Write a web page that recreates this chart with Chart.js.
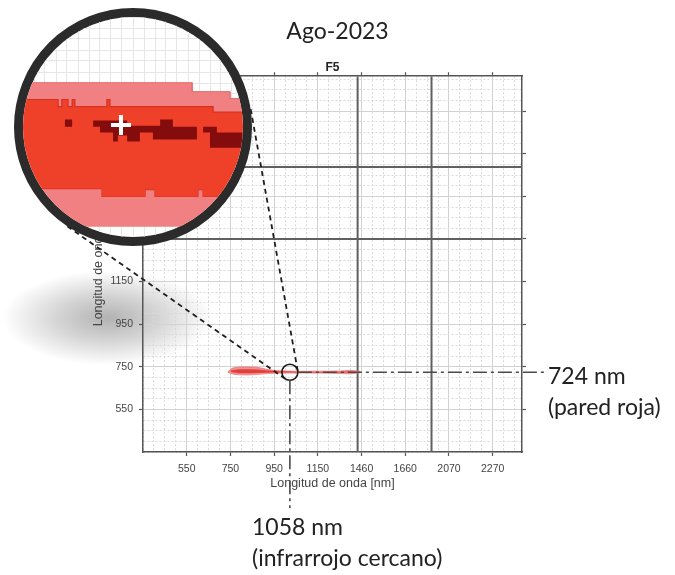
<!DOCTYPE html>
<html>
<head>
<meta charset="utf-8">
<script src="https://cdn.jsdelivr.net/npm/chart.js"></script>
<style>
  html, body { margin: 0; padding: 0; background: #fff; }
  #wrap { position: relative; width: 675px; height: 575px; overflow: hidden; }
  #main { position: absolute; left: 0; top: 0; }
  #lens { position: absolute; left: 14px; top: 8px; width: 220px; height: 220px;
          border: 9px solid #2b2b2b; border-radius: 50%; overflow: hidden; background: #fff; }
  #lens canvas { display: block; }
  .note { position: absolute; font-family: Lato, "Open Sans", sans-serif; font-size: 23px;
          line-height: 31px; color: #222; white-space: nowrap; }
</style>
</head>
<body>
<div id="wrap">
  <canvas id="main" width="675" height="575"></canvas>
  <div id="lens"><canvas id="zoom" width="220" height="220"></canvas></div>
  <div class="note" style="left:548px; top:360px">724 nm<br>(pared roja)</div>
  <div class="note" style="left:252px; top:511px">1058 nm<br>(infrarrojo cercano)</div>
</div>
<script>
// tick labels of both axes (nm), evenly spaced on the plot
const tickNm = [550, 750, 950, 1150, 1460, 1660, 2070, 2270];

// thick separator lines (nm)
const breakXNm = [1432, 1906];
const breakYNm = [1460, 1943];

// red blob in the F5 map: outer (pink) and inner (red) contours, [x nm, y nm]
const blobTop = [[738,726],[761,744],[815,749],[875,747],[921,737],[976,731],[1067,729],[1305,730],[1376,733],[1448,729]];
const blobBottom = [[738,724],[770,714],[829,712],[893,716],[953,720],[1067,721],[1305,719],[1376,717],[1448,722]];
const coreTop = [[752,733],[800,738],[870,737],[950,730],[1067,726],[1305,726],[1376,728],[1440,726]];
const coreBottom = [[752,726],[800,720],[870,721],[950,723],[1067,723.5],[1305,723],[1376,722],[1440,724]];

// marked point
const markNm = [1022, 724];

// magnified view around the point
const lensX = [1000, 1064];
const lensY = [690, 754];
const lensCross = [1028.5, 722.6];
const pinkTop = [[995,734.9],[1049.2,734.9],[1049.2,732.3],[1060.2,732.3],[1060.2,730.3],[1070,730.3]];
const pinkBottom = [[995,693],[1070,693]];
const redTop = [[995,730],[1010.2,730],[1010.2,727.9],[1011.3,727.9],[1011.3,730],[1013.1,730],[1013.1,727.9],
  [1014.3,727.9],[1014.3,730],[1015.1,730],[1015.1,727.9],[1024.4,727.9],[1024.4,730],[1025.3,730],
  [1025.3,727.9],[1055.3,727.9],[1055.3,726.3],[1070,726.3]];
const redBottom = [[995,704.1],[1023,704.1],[1023,701.8],[1035.5,701.8],[1035.5,703.8],[1038.4,703.8],
  [1038.4,701.8],[1050.9,701.8],[1050.9,703.8],[1052.4,703.8],[1052.4,701.8],[1070,701.8]];
const darkTop = [[995,723],[1012.2,723],[1012.2,724.2],[1014.3,724.2],[1014.3,723],[1020.4,723],[1020.4,723.9],
  [1030.3,723.9],[1030.3,722.4],[1039.9,722.4],[1039.9,724.2],[1043.6,724.2],[1043.6,722.1],[1050.6,722.1],
  [1050.6,721],[1052.4,721],[1052.4,722.1],[1056.4,722.1],[1056.4,720.4],[1070,720.4]];
const darkBottom = [[995,723],[1012.2,723],[1012.2,722.1],[1014.3,722.1],[1014.3,723],[1020.4,723],[1020.4,722.1],
  [1022.4,722.1],[1022.4,720.4],[1026.2,720.4],[1026.2,717.8],[1027.6,717.8],[1027.6,719.5],[1030.3,719.5],
  [1030.3,717.8],[1034,717.8],[1034,720.4],[1037.8,720.4],[1037.8,718.4],[1050.6,718.4],[1050.6,721],
  [1052.4,721],[1052.4,720.4],[1054.4,720.4],[1054.4,716],[1070,716]];

// nm -> position on the evenly spaced tick axis
function toIdx(nm) {
  const n = tickNm.length;
  if (nm <= tickNm[0]) return (nm - tickNm[0]) / (tickNm[1] - tickNm[0]);
  for (let i = 0; i < n - 1; i++) {
    if (nm <= tickNm[i + 1]) return i + (nm - tickNm[i]) / (tickNm[i + 1] - tickNm[i]);
  }
  return n - 1 + (nm - tickNm[n - 1]) / (tickNm[n - 1] - tickNm[n - 2]);
}
const pts = arr => arr.map(p => ({ x: toIdx(p[0]), y: toIdx(p[1]) }));
const raw = arr => arr.map(p => ({ x: p[0], y: p[1] }));

const xMin = -1, xMax = 7.67, yMin = -1, yMax = 7.82;
const isMajor = v => Number.isInteger(v) && v >= 0 && v < tickNm.length;

function quarterTicks(scale) {
  const t = [];
  for (let v = Math.ceil(scale.min * 4) / 4; v <= scale.max + 1e-9; v += 0.25) {
    t.push({ value: Math.round(v * 100) / 100 });
  }
  scale.ticks = t;
}

const gridOpts = {
  color: c => (c.tick && isMajor(c.tick.value)) ? '#d2d2d2' : '#d9d9d9',
  lineWidth: 1,
  tickLength: 4,
  tickWidth: 1.2,
  tickColor: c => (c.tick && isMajor(c.tick.value)) ? '#555' : 'rgba(0,0,0,0)'
};
const borderOpts = {
  color: '#555', width: 1.5,
  dash: c => (c.tick && !isMajor(c.tick.value)) ? [2, 2] : []
};
const tickFont = { family: 'Liberation Sans', size: 10.5 };
const titleFont = { family: 'Liberation Sans', size: 12.5 };

const LENS = { cx: 133, cy: 127, r: 119 };

const shadowPlugin = {
  id: 'shadow',
  beforeDraw(chart) {
    const ctx = chart.ctx;
    ctx.save();
    ctx.translate(108, 318);
    ctx.scale(1, 0.45);
    const g = ctx.createRadialGradient(0, 0, 0, 0, 0, 105);
    g.addColorStop(0, 'rgba(0,0,0,0.30)');
    g.addColorStop(0.5, 'rgba(0,0,0,0.16)');
    g.addColorStop(1, 'rgba(0,0,0,0)');
    ctx.fillStyle = g;
    ctx.fillRect(-110, -110, 220, 220);
    ctx.restore();
  }
};

const guidePlugin = {
  id: 'guides',
  afterDatasetsDraw(chart) {
    const { ctx, chartArea, scales } = chart;
    const mx = scales.x.getPixelForValue(toIdx(markNm[0]));
    const my = scales.y.getPixelForValue(toIdx(markNm[1]));
    const r = 8;
    ctx.save();
    // dash-dot guides
    ctx.strokeStyle = '#4a4a4a';
    ctx.lineWidth = 1.6;
    ctx.setLineDash([14, 4, 3, 4]);
    ctx.beginPath();
    ctx.moveTo(mx + r, my);
    ctx.lineTo(chartArea.right + 24, my);
    ctx.moveTo(mx, my + r);
    ctx.lineTo(mx, chartArea.bottom + 56);
    ctx.stroke();
    // tangent lines towards the magnifier
    const dx = LENS.cx - mx, dy = LENS.cy - my;
    const D = Math.hypot(dx, dy);
    const ux = dx / D, uy = dy / D;
    const a = (LENS.r - r) / D, b = Math.sqrt(1 - a * a);
    ctx.strokeStyle = '#1e1e1e';
    ctx.lineWidth = 1.8;
    ctx.setLineDash([5, 4]);
    ctx.beginPath();
    [1, -1].forEach(s => {
      const nx = a * ux + s * b * (-uy), ny = a * uy + s * b * ux;
      ctx.moveTo(mx - r * nx, my - r * ny);
      ctx.lineTo(LENS.cx - LENS.r * nx, LENS.cy - LENS.r * ny);
    });
    ctx.stroke();
    ctx.restore();
  }
};

const lineDs = (data, extra) => Object.assign({
  data, pointRadius: 0, borderWidth: 0, borderColor: 'rgba(0,0,0,0)', fill: false
}, extra);

const mainDatasets = [
  { data: pts([markNm]), showLine: false, pointRadius: 8, pointBorderWidth: 1.6,
    pointBorderColor: '#1a1a1a', pointBackgroundColor: 'rgba(0,0,0,0)', order: -1 },
  lineDs(pts(coreTop), { fill: '+1', backgroundColor: '#e2403a', cubicInterpolationMode: 'monotone' }),
  lineDs(pts(coreBottom), { cubicInterpolationMode: 'monotone' }),
  lineDs(pts(blobTop), { fill: '+1', backgroundColor: '#f09090', borderColor: '#e97070', borderWidth: 0.8, cubicInterpolationMode: 'monotone' }),
  lineDs(pts(blobBottom), { borderColor: '#e97070', borderWidth: 0.8, cubicInterpolationMode: 'monotone' })
];
breakXNm.forEach(b => mainDatasets.push(lineDs([{ x: toIdx(b), y: yMin }, { x: toIdx(b), y: yMax }],
  { borderColor: '#606060', borderWidth: 2, order: 3 })));
breakYNm.forEach(b => mainDatasets.push(lineDs([{ x: xMin, y: toIdx(b) }, { x: xMax, y: toIdx(b) }],
  { borderColor: '#606060', borderWidth: 2, order: 3 })));

new Chart(document.getElementById('main'), {
  type: 'line',
  data: { datasets: mainDatasets },
  plugins: [shadowPlugin, guidePlugin],
  options: {
    responsive: false,
    animation: false,
    events: [],
    layout: { autoPadding: false, padding: { left: 0, right: 0, top: 0, bottom: 80 } },
    plugins: {
      legend: { display: false },
      tooltip: { enabled: false },
      title: { display: true, text: 'Ago-2023', color: '#222',
        font: { family: 'Lato', size: 23, weight: 'normal', lineHeight: 24 / 23 }, padding: { top: 20, bottom: 10 } },
      subtitle: { display: true, text: 'F5', color: '#222', fullSize: false,
        font: { family: 'Liberation Sans', size: 12, weight: 'bold' }, padding: { top: 6, bottom: 0 } }
    },
    scales: {
      x: {
        type: 'linear', position: 'bottom', min: xMin, max: xMax,
        afterBuildTicks: quarterTicks,
        afterFit: s => { s.height = 43; },
        grid: gridOpts, border: borderOpts,
        ticks: { autoSkip: false, maxRotation: 0, padding: 7, color: '#444', font: tickFont,
          callback: v => isMajor(v) ? String(tickNm[v]) : '' },
        title: { display: true, text: 'Longitud de onda [nm]', color: '#444', font: titleFont,
          padding: { top: 4, bottom: 4 } }
      },
      x2: {
        type: 'linear', position: 'top', min: xMin, max: xMax,
        afterBuildTicks: quarterTicks,
        afterFit: s => { s.height = 1.8; },
        grid: Object.assign({}, gridOpts, { drawOnChartArea: false }), border: borderOpts,
        ticks: { display: false }
      },
      y: {
        type: 'linear', position: 'left', min: yMin, max: yMax,
        afterBuildTicks: quarterTicks,
        afterFit: s => { s.width = 143; },
        grid: gridOpts, border: borderOpts,
        ticks: { autoSkip: false, padding: 6, color: '#444', font: tickFont,
          callback: v => isMajor(v) ? String(tickNm[v]) : '' },
        title: { display: true, text: 'Longitud de onda [nm]', color: '#444', font: titleFont,
          padding: { top: 91, bottom: 4 } }
      },
      y2: {
        type: 'linear', position: 'right', min: yMin, max: yMax,
        afterBuildTicks: quarterTicks,
        afterFit: s => { s.width = 153; },
        grid: Object.assign({}, gridOpts, { drawOnChartArea: false }), border: borderOpts,
        ticks: { display: false }
      }
    }
  }
});

// magnifier
new Chart(document.getElementById('zoom'), {
  type: 'line',
  data: {
    datasets: [
      { data: raw([lensCross]), showLine: false, pointStyle: 'cross', pointRadius: 10,
        pointBorderWidth: 4, pointBorderColor: '#fff', order: -1 },
      lineDs(raw(darkTop), { fill: '+1', backgroundColor: '#850c0c' }),
      lineDs(raw(darkBottom)),
      lineDs(raw(redTop), { fill: '+1', backgroundColor: '#ef4129', borderColor: '#d6301f', borderWidth: 1.2 }),
      lineDs(raw(redBottom), { borderColor: '#d6301f', borderWidth: 1.2 }),
      lineDs(raw(pinkTop), { fill: '+1', backgroundColor: '#f08081', borderColor: '#ea6f70', borderWidth: 1 }),
      lineDs(raw(pinkBottom))
    ]
  },
  options: {
    responsive: false,
    animation: false,
    events: [],
    layout: { autoPadding: false, padding: 0 },
    plugins: { legend: { display: false }, tooltip: { enabled: false } },
    scales: {
      x: { type: 'linear', min: lensX[0], max: lensX[1], afterFit: s => { s.height = 0; },
        ticks: { display: false, stepSize: 3.2 }, border: { display: false },
        grid: { drawTicks: false, color: '#e6e6e6' } },
      y: { type: 'linear', min: lensY[0], max: lensY[1], afterFit: s => { s.width = 0; },
        ticks: { display: false, stepSize: 3.2 }, border: { display: false },
        grid: { drawTicks: false, color: '#e6e6e6' } }
    }
  }
});
</script>
</body>
</html>
